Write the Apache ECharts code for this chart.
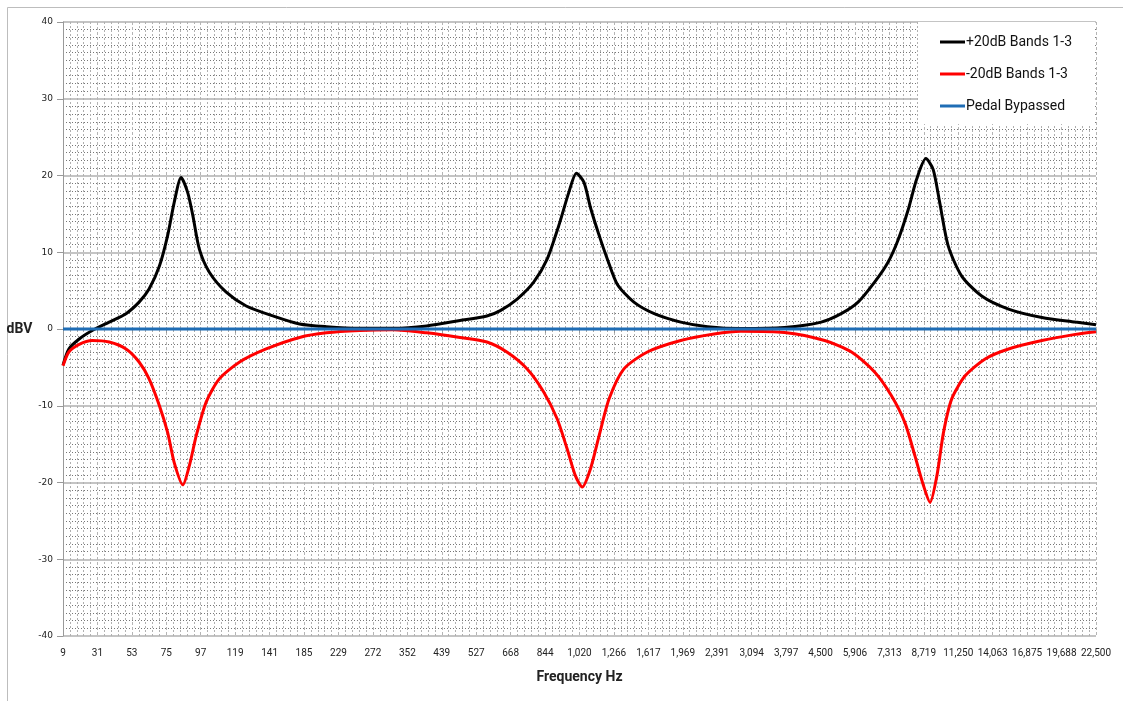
<!DOCTYPE html>
<html>
<head>
<meta charset="utf-8">
<script src="https://cdn.jsdelivr.net/npm/echarts@6/dist/echarts.min.js"></script>
<style>
html,body{margin:0;padding:0;background:#fff;}
#chart{width:1123px;height:701px;}
</style>
</head>
<body>
<div id="chart"></div>
<script>
// Frequency tick labels (category positions 0..30)
const freqLabels = ['9','31','53','75','97','119','141','185','229','272','352','439','527','668','844','1,020','1,266','1,617','1,969','2,391','3,094','3,797','4,500','5,906','7,313','8,719','11,250','14,063','16,875','19,688','22,500'];

const seriesNames = ['+20dB Bands 1-3', '-20dB Bands 1-3', 'Pedal Bypassed'];

// +20dB curve: positions along the frequency category axis, and dBV values
const boostPos = [0,0.17,0.47,0.85,1.34,1.83,2.21,2.5,2.8,3.04,3.23,3.43,3.62,3.77,3.96,4.25,4.74,5.32,6.1,6.87,7.65,8.62,9.59,10.56,11.53,12.31,12.7,13.19,13.67,14.06,14.4,14.69,14.91,15.13,15.32,15.57,15.81,16.1,16.58,17.17,17.94,18.72,19.69,20.95,22.02,22.6,23.09,23.57,23.96,24.26,24.55,24.79,25.06,25.27,25.46,25.71,26.1,26.68,27.46,28.43,29.4,30];
const boostDb  = [-4.7,-2.6,-1.3,-0.2,0.9,2.0,3.5,5.2,8.2,12.2,16.5,19.75,17.8,14.8,10.4,7.4,4.8,3.0,1.7,0.65,0.3,0.1,0.1,0.4,1.1,1.7,2.4,3.9,6.1,9.1,13.5,17.8,20.3,19.1,15.8,12.2,9.1,5.8,3.5,2.0,0.9,0.3,0.05,0.2,0.9,2.0,3.5,6.1,8.7,11.7,15.6,19.5,22.2,20.8,16.5,10.8,6.9,4.3,2.6,1.5,0.9,0.55];

// -20dB curve
const cutPos = [0,0.17,0.47,0.85,1.34,1.83,2.21,2.5,2.8,3.04,3.23,3.48,3.67,3.87,4.16,4.54,5.13,5.9,6.87,7.65,8.62,9.59,10.56,11.53,12.31,12.89,13.48,13.96,14.35,14.64,14.88,15.08,15.32,15.57,15.86,16.29,16.97,17.94,18.91,19.69,20.95,22.12,22.9,23.57,24.06,24.45,24.74,24.99,25.18,25.38,25.57,25.81,26.2,26.78,27.46,28.43,29.4,30];
const cutDb  = [-4.8,-3.0,-2.0,-1.5,-1.7,-2.6,-4.3,-6.5,-10.0,-13.5,-17.4,-20.3,-17.8,-13.9,-9.5,-6.5,-4.3,-2.6,-1.1,-0.5,-0.2,-0.1,-0.5,-1.1,-1.7,-3.0,-5.2,-8.2,-11.7,-15.6,-19.1,-20.6,-18.2,-13.9,-9.1,-5.2,-3.0,-1.5,-0.65,-0.3,-0.45,-1.5,-3.0,-5.6,-8.7,-12.2,-16.5,-20.4,-22.6,-19.1,-13.5,-9.1,-6.1,-3.9,-2.6,-1.5,-0.7,-0.35];

// Bypassed: flat
const bypassPos = [0, 30];
const bypassDb  = [0, 0];

const yTicks = [-40,-30,-20,-10,0,10,20,30,40];

function pairs(p, v){ return p.map((x,i)=>[x, v[i]]); }

const chart = echarts.init(document.getElementById('chart'), null, {renderer:'canvas'});
const option = {
  backgroundColor: '#fff',
  animation: false,
  graphic: [{
    type: 'rect', left: 5, top: 5, z: -10,
    shape: {width: 1200, height: 800},
    style: {fill: 'none', stroke: '#bdbdbd', lineWidth: 1}
  }],
  grid: {left: 63, right: 27, top: 22, bottom: 65, containLabel: false},
  legend: {
    orient: 'vertical',
    left: 918, top: 22,
    padding: [13, 23, 11, 22],
    itemGap: 18,
    icon: 'rect',
    itemWidth: 25, itemHeight: 3,
    backgroundColor: '#fff',
    textStyle: {fontFamily: 'Roboto', fontSize: 14, color: '#111', padding: [0,0,0,-4]},
    data: seriesNames
  },
  xAxis: {
    type: 'value', min: 0, max: 30, interval: 1,
    name: 'Frequency Hz', nameLocation: 'middle', nameGap: 34,
    nameTextStyle: {fontFamily: 'Roboto', fontSize: 14, fontWeight: 'bold', color: '#222'},
    axisLine: {show: true, lineStyle: {color: '#999', width: 1}},
    axisTick: {show: true, length: 4, lineStyle: {color: '#999'}},
    minorTick: {show: true, splitNumber: 5, length: 3, lineStyle: {color: '#aaa'}},
    axisLabel: {
      fontFamily: 'Liberation Sans Narrow, Roboto', fontSize: 10, color: '#222', margin: 12,
      showMaxLabel: true, showMinLabel: true, hideOverlap: false,
      formatter: (v) => freqLabels[Math.round(v)] || ''
    },
    splitLine: {show: true, lineStyle: {color: '#b5b5b5', type: [3,2], width: 1}},
    minorSplitLine: {show: true, lineStyle: {color: '#b0b0b0', type: [2,2], width: 1}}
  },
  yAxis: {
    type: 'value', min: -40, max: 40, interval: 10,
    name: 'dBV', nameLocation: 'middle', nameRotate: 0, nameGap: 21,
    nameTextStyle: {fontFamily: 'Roboto', fontSize: 14, fontWeight: 'bold', color: '#222'},
    axisLine: {show: true, lineStyle: {color: '#999', width: 1}},
    axisTick: {show: true, length: 6, lineStyle: {color: '#999'}},
    minorTick: {show: false, splitNumber: 10},
    axisLabel: {fontFamily: 'DejaVu Sans', fontSize: 9, color: '#222', margin: 10,
      formatter: (v) => yTicks.includes(v) ? String(v) : ''},
    splitLine: {show: true, lineStyle: {color: '#b0b0b0', width: 1.5}},
    minorSplitLine: {show: true, lineStyle: {color: '#777', type: [1,2], width: 1}}
  },
  series: [
    {name: seriesNames[0], type: 'line', data: pairs(boostPos, boostDb), symbol: 'none',
     smooth: 0.25, lineStyle: {color: '#000', width: 3}, itemStyle: {color: '#000'}},
    {name: seriesNames[1], type: 'line', data: pairs(cutPos, cutDb), symbol: 'none',
     smooth: 0.25, lineStyle: {color: '#ff0000', width: 3}, itemStyle: {color: '#ff0000'}},
    {name: seriesNames[2], type: 'line', data: pairs(bypassPos, bypassDb), symbol: 'none',
     lineStyle: {color: '#1f6db5', width: 3}, itemStyle: {color: '#1f6db5'}}
  ]
};
chart.setOption(option);
</script>
</body>
</html>
